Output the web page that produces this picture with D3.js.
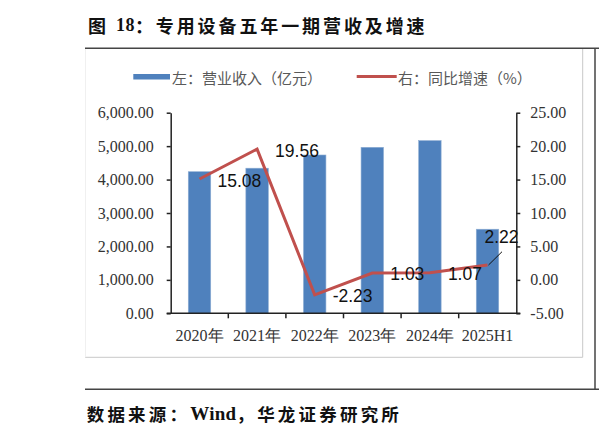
<!DOCTYPE html>
<html>
<head>
<meta charset="utf-8">
<script src="https://cdn.jsdelivr.net/npm/d3@7"></script>
<style>
  html, body { margin: 0; padding: 0; background: #fff; }
  svg { display: block; }
</style>
</head>
<body>
<script>
// ---- data ----
const categories = ["2020年", "2021年", "2022年", "2023年", "2024年", "2025H1"];
const revenue = [4235, 4340, 4735, 4965, 5165, 2515];      // 左：营业收入（亿元）
const growth = [15.08, 19.56, -2.23, 1.03, 1.07, 2.22];     // 右：同比增速（%）
const leftTicks = [0, 1000, 2000, 3000, 4000, 5000, 6000];
const rightTicks = [-5, 0, 5, 10, 15, 20, 25];
const titleText = "专用设备五年一期营收及增速";
const legendLabels = ["左：营业收入（亿元）", "右：同比增速（%）"];

const W = 599, H = 439;
const svg = d3.select("body").append("svg").attr("width", W).attr("height", H);
svg.append("rect").attr("width", W).attr("height", H).attr("fill", "#fff");

const cjk = "'Noto Sans CJK SC', sans-serif";
const serif = "'Liberation Serif', 'Times New Roman', serif";

// ---- page frame ----
const title = svg.append("text").attr("x", 88).attr("y", 25)
  .attr("dominant-baseline", "central")
  .attr("font-family", cjk).attr("font-weight", "bold").attr("font-size", 18)
  .attr("letter-spacing", 2.9).attr("fill", "#111");
title.append("tspan").text("图 ");
title.append("tspan").attr("font-family", serif).attr("letter-spacing", 0.5).text("18");
title.append("tspan").text("：" + titleText);

svg.append("line").attr("x1", 85).attr("x2", W).attr("y1", 48.3).attr("y2", 48.3)
  .attr("stroke", "#444").attr("stroke-width", 1.5);
svg.append("line").attr("x1", 595).attr("x2", 595).attr("y1", 48.3).attr("y2", 389.3)
  .attr("stroke", "#444").attr("stroke-width", 1.5);
svg.append("line").attr("x1", 85).attr("x2", W).attr("y1", 389.3).attr("y2", 389.3)
  .attr("stroke", "#444").attr("stroke-width", 1.5);
// inner chart border (light)
svg.append("line").attr("x1", 582.7).attr("x2", 582.7).attr("y1", 49).attr("y2", 357.3)
  .attr("stroke", "#c8c8c8").attr("stroke-width", 1);
svg.append("line").attr("x1", 85).attr("x2", 582.7).attr("y1", 357.3).attr("y2", 357.3)
  .attr("stroke", "#c8c8c8").attr("stroke-width", 1);
svg.append("line").attr("x1", 85.5).attr("x2", 85.5).attr("y1", 49).attr("y2", 357.3)
  .attr("stroke", "#f0f0f0").attr("stroke-width", 1);

const src = svg.append("text").attr("x", 86.7).attr("y", 413.3).attr("dominant-baseline", "central")
  .attr("font-family", cjk).attr("font-weight", "bold").attr("font-size", 17.5)
  .attr("letter-spacing", 3.2).attr("fill", "#111");
src.append("tspan").text("数据来源：");
src.append("tspan").attr("font-family", serif).attr("letter-spacing", 0.3).attr("font-size", 19).text("Wind");
src.append("tspan").text("，华龙证券研究所");

// ---- legend ----
const blue = "#4f81bd", red = "#c0504d";
svg.append("rect").attr("x", 133.3).attr("y", 74).attr("width", 36.7).attr("height", 5.5).attr("fill", blue);
svg.append("text").attr("x", 172).attr("y", 77).attr("dominant-baseline", "central")
  .attr("font-family", cjk).attr("font-size", 15).attr("fill", "#595959").text(legendLabels[0]);
svg.append("line").attr("x1", 356.7).attr("x2", 396.7).attr("y1", 76.5).attr("y2", 76.5)
  .attr("stroke", red).attr("stroke-width", 3);
svg.append("text").attr("x", 398).attr("y", 77).attr("dominant-baseline", "central")
  .attr("font-family", cjk).attr("font-size", 15).attr("fill", "#595959").text(legendLabels[1]);

// ---- scales ----
const x0 = 170.7, x1 = 516.3, yTop = 112.7, yBot = 313.3;
const x = d3.scaleBand().domain(categories).range([x0, x1]).padding(0);
const yL = d3.scaleLinear().domain([0, 6000]).range([yBot, yTop]);
const yR = d3.scaleLinear().domain([-5, 25]).range([yBot, yTop]);
const barW = x.bandwidth() * 0.39;
const cx = c => x(c) + x.bandwidth() / 2;
const hyphen = f => d => f(d).replace("\u2212", "-");

// bars
svg.append("g").selectAll("rect").data(categories).join("rect")
  .attr("x", c => cx(c) - barW / 2)
  .attr("width", barW)
  .attr("y", (c, i) => yL(revenue[i]))
  .attr("height", (c, i) => yBot - yL(revenue[i]))
  .attr("fill", blue)
  .attr("stroke", "#8eadd3").attr("stroke-width", 0.6);

// axes
const axisStyle = g => {
  g.selectAll("path.domain").attr("stroke", "#222").attr("stroke-width", 1.5);
  g.selectAll(".tick line").attr("stroke", "#222").attr("stroke-width", 1.5);
  g.selectAll("text").attr("font-family", serif).attr("font-size", 16).attr("fill", "#333");
};
svg.append("g").attr("transform", `translate(${x0},0)`)
  .call(d3.axisLeft(yL).tickValues(leftTicks).tickFormat(hyphen(d3.format(",.2f"))).tickSize(4).tickSizeOuter(0).tickPadding(13))
  .call(axisStyle);
svg.append("g").attr("transform", `translate(${x1},0)`)
  .call(d3.axisRight(yR).tickValues(rightTicks).tickFormat(hyphen(d3.format(".2f"))).tickSize(4).tickSizeOuter(0).tickPadding(10))
  .call(axisStyle);

// x axis: ticks at category boundaries
const xAxisG = svg.append("g").attr("transform", `translate(0,${yBot})`);
xAxisG.append("line").attr("x1", x0 - 4).attr("x2", x1 + 4).attr("y1", 0).attr("y2", 0)
  .attr("stroke", "#222").attr("stroke-width", 1.5);
xAxisG.selectAll("line.tk").data(categories.slice(1)).join("line").attr("class", "tk")
  .attr("x1", c => x(c)).attr("x2", c => x(c)).attr("y1", 0).attr("y2", 5)
  .attr("stroke", "#222").attr("stroke-width", 1.5);
xAxisG.selectAll("text").data(categories).join("text")
  .attr("x", c => cx(c)).attr("y", 22).attr("text-anchor", "middle").attr("dominant-baseline", "central")
  .attr("font-family", serif).attr("font-size", 16).attr("fill", "#333").text(c => c);

// line
const line = d3.line().x((d, i) => cx(categories[i])).y(d => yR(d));
svg.append("path").datum(growth).attr("d", line)
  .attr("fill", "none").attr("stroke", red).attr("stroke-width", 3).attr("stroke-linejoin", "miter");

// data labels
const last = growth.length - 1;
svg.append("g").selectAll("text").data(growth).join("text")
  .attr("x", (d, i) => i === last ? cx(categories[i]) - 3 : cx(categories[i]) + 18)
  .attr("y", (d, i) => i === last ? yR(d) - 28 : yR(d) + 1.5)
  .attr("dominant-baseline", "central")
  .attr("font-family", "'Liberation Sans', Arial, sans-serif").attr("font-size", 17.5).attr("fill", "#111")
  .text(d => d.toFixed(2));
// leader line for last label
svg.append("line")
  .attr("x1", cx(categories[last]) + 1).attr("y1", yR(growth[last]))
  .attr("x2", cx(categories[last]) + 14.5).attr("y2", yR(growth[last]) - 13.3)
  .attr("stroke", "#111").attr("stroke-width", 1);
</script>
</body>
</html>
